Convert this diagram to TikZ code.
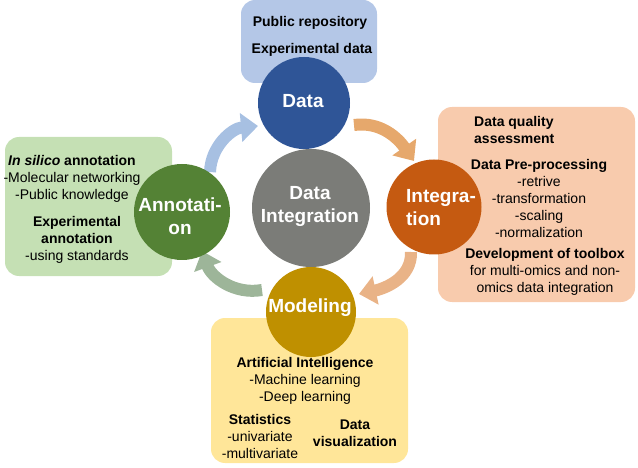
\documentclass[tikz,border=0pt]{standalone}
\usepackage{fontspec}
\setmainfont{Liberation Sans}
\usetikzlibrary{arrows.meta}
\definecolor{dataBox}{HTML}{B4C7E7}
\definecolor{dataCol}{HTML}{2F5597}
\definecolor{greyCol}{HTML}{7B7C78}
\definecolor{annoBox}{HTML}{C5E0B4}
\definecolor{annoCol}{HTML}{548235}
\definecolor{integBox}{HTML}{F8CBAD}
\definecolor{integCol}{HTML}{C55A11}
\definecolor{modelBox}{HTML}{FFE699}
\definecolor{modelCol}{HTML}{BF9000}
\definecolor{arrBlue}{HTML}{A7C0E2}
\definecolor{arrOrange}{HTML}{E6A86C}
\definecolor{arrPeach}{HTML}{E9B387}
\definecolor{arrGreen}{HTML}{9DB599}

\begin{document}
\begin{tikzpicture}[x=1pt,y=-1pt]
\tikzstyle{every node}+=[inner sep=0pt]
\tikzstyle{box}=[rounded corners=14pt]
\tikzstyle{circ}=[circle]
\tikzstyle{small}=[font=\fontsize{14}{17}\selectfont, align=center]
\tikzstyle{big}=[font=\fontsize{19}{23}\selectfont\bfseries, text=white, align=center]
\tikzstyle{flow}=[line width=12pt, -{Triangle[width=28pt,length=17pt]}]
\useasboundingbox (0,0) rectangle (638,468);
% boxes
\fill [dataBox, box] (241,0) rectangle (377,83);
\fill [annoBox, box] (5,137) rectangle (172,276);
\fill [integBox, box] (438,107) rectangle (635,302);
\fill [modelBox, box] (211,318) rectangle (408,463);
% arrow ends
\coordinate (a1) at (210,172);
\coordinate (a2) at (258,126);
\coordinate (b1) at (354,125);
\coordinate (b2) at (414,161);
\coordinate (c1) at (411,252);
\coordinate (c2) at (359,294);
\coordinate (d1) at (262,290);
\coordinate (d2) at (202,251);
\draw [arrBlue, flow] (a1) to[out=88,in=185] (a2);
\draw [arrOrange, flow] (b1) to[out=8,in=125] (b2);
\draw [arrPeach, flow] (c1) to[out=-88,in=12] (c2);
\draw [arrGreen, flow] (d1) to[out=190,in=-70] (d2);
% circles
\node [circ, fill=dataCol, minimum size=92] (datac) at (304,103) {};
\node [circ, fill=greyCol, minimum size=118] (greyc) at (311,208) {};
\node [circ, fill=annoCol, minimum size=96] (annoc) at (182,212) {};
\node [circ, fill=integCol, minimum size=95] (integc) at (434,207) {};
\node [circ, fill=modelCol, minimum size=90] (modelc) at (311,312) {};
\node [big] (datalbl) at (303,101) {Data};
\node [big] (greylbl) at (310,206) {Data\\Integration};
\node [big] (annolbl) at (180,216) {Annotati-\\on};
\node [big, align=left] (integlbl) at (441,208) {Integra-\\tion};
\node [big] (modellbl) at (310,308) {Modeling};
% texts
\node [small, font=\fontsize{14}{17}\selectfont\bfseries] (pubrepo) at (310,23) {Public repository};
\node [small, font=\fontsize{14}{17}\selectfont\bfseries] (expdata) at (312,50) {Experimental data};
\node [small] (insilico) at (72,179) {\textbf{\textit{In silico} annotation}\\-Molecular networking\\-Public knowledge};
\node [small] (expanno) at (77,240) {\textbf{Experimental}\\\textbf{annotation}\\-using standards};
\node [small, align=left, anchor=west] (quality) at (474,130) {\textbf{Data quality}\\\textbf{assessment}};
\node [small] (preproc) at (539,198) {\textbf{Data Pre-processing}\\-retrive\\-transformation\\-scaling\\-normalization};
\node [small] (toolbox) at (545,272) {\textbf{Development of toolbox}\\for multi-omics and non-\\omics data integration};
\node [small] (ai) at (305,381) {\textbf{Artificial Intelligence}\\-Machine learning\\-Deep learning};
\node [small] (stats) at (260,436) {\textbf{Statistics}\\-univariate\\-multivariate};
\node [small] (dataviz) at (355,433) {\textbf{Data}\\\textbf{visualization}};
\end{tikzpicture}
\end{document}
